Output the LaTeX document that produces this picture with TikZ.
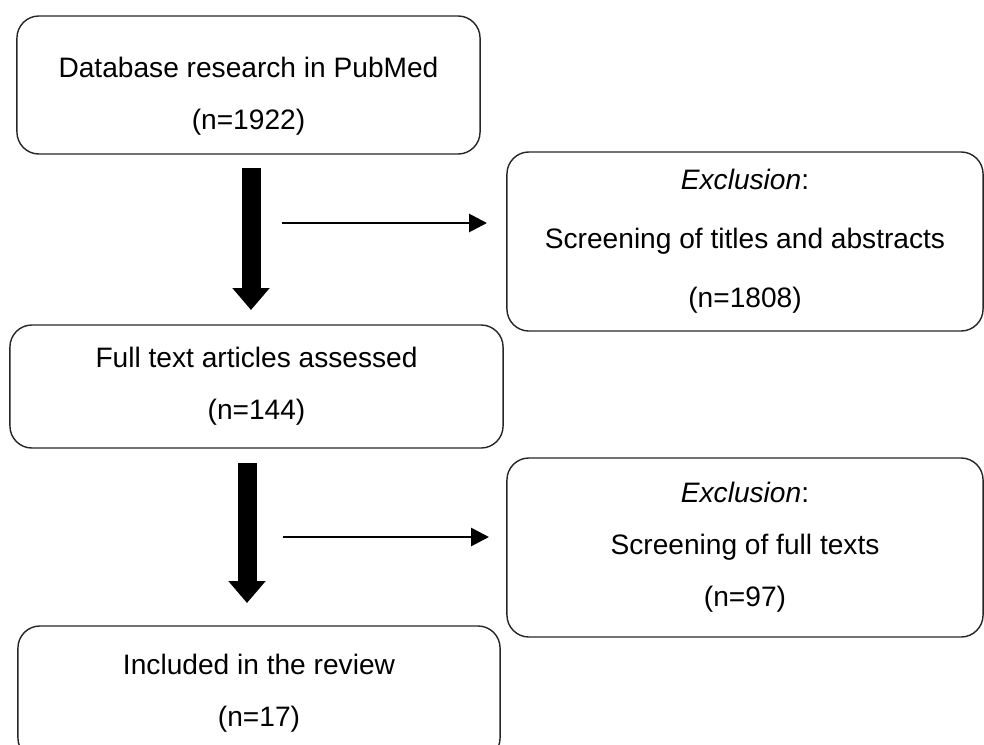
\documentclass[tikz,border=0pt]{standalone}
\usepackage{fontspec}
\setmainfont{Liberation Sans}
\usetikzlibrary{arrows.meta}

\begin{document}
\begin{tikzpicture}[
    x=0.025cm, y=-0.025cm,
    box/.style={rectangle, draw=black!85, line width=1pt, rounded corners=0.55cm, align=center,
        font=\fontsize{20pt}{37pt}\selectfont},
    bigarrow/.style={line width=0.475cm, -{Triangle[length=0.55cm, width=0.9cm]}},
    arrow/.style={line width=2pt, -{Triangle[length=0.45cm, width=0.45cm]}}
]
\useasboundingbox (0,0) rectangle (984,744);

% Main flow boxes
\node[box, minimum width=11.575cm, minimum height=3.45cm] (search) at (248.5,85)
    {\rule{0pt}{30pt}Database research in PubMed\\(n=1922)};
\node[box, minimum width=12.325cm, minimum height=3.075cm] (fulltext) at (256.5,386.5)
    {Full text articles assessed\\(n=144)};
\node[box, minimum width=12.05cm, minimum height=3.35cm] (included) at (259,693)
    {Included in the review\\(n=17)};

% Exclusion boxes
\node[box, minimum width=11.9cm, minimum height=4.475cm,
      font=\fontsize{20pt}{42pt}\selectfont] (excl1) at (745,241.5)
    {\textit{Exclusion}:\\Screening of titles and abstracts\\(n=1808)};
\node[box, minimum width=11.9cm, minimum height=4.475cm] (excl2) at (745,547.5)
    {\textit{Exclusion}:\\Screening of full texts\\(n=97)};

% Arrow ends
\coordinate (d1a) at (251,168);
\coordinate (d1b) at (251,310);
\coordinate (d2a) at (247,463);
\coordinate (d2b) at (247,603);
\coordinate (e1a) at (282,223);
\coordinate (e1b) at (487,223);
\coordinate (e2a) at (283,537);
\coordinate (e2b) at (489,537);

% Arrows
\draw[bigarrow] (d1a) -- (d1b);
\draw[bigarrow] (d2a) -- (d2b);
\draw[arrow] (e1a) -- (e1b);
\draw[arrow] (e2a) -- (e2b);
\end{tikzpicture}
\end{document}
